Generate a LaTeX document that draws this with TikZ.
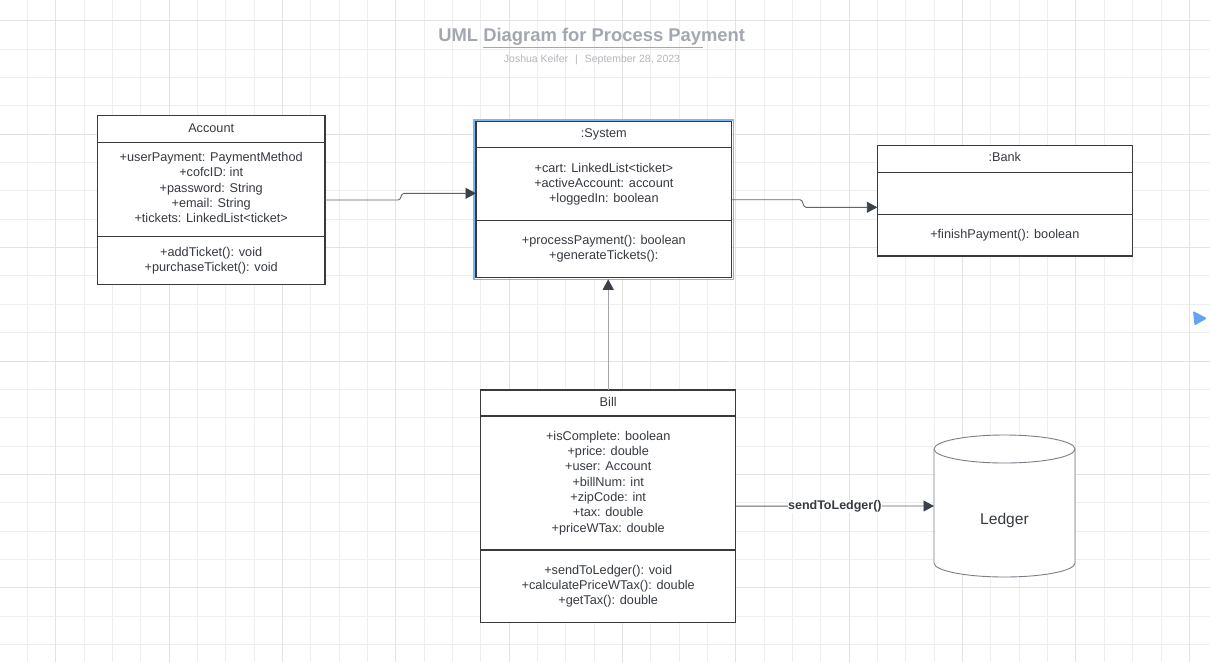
\documentclass[tikz,border=0pt]{standalone}
\usepackage{fontspec}
\setmainfont{Liberation Sans}
\usetikzlibrary{arrows.meta}
\definecolor{ink}{HTML}{363A40}
\definecolor{boxline}{HTML}{3A3A3A}
\definecolor{arrowc}{HTML}{3A414A}
\definecolor{linec}{HTML}{5F6670}
\definecolor{lightline}{HTML}{A4A6AA}
\definecolor{gridminor}{HTML}{EEEEEE}
\definecolor{gridmajor}{HTML}{E3E3E3}
\definecolor{titlec}{HTML}{A3A8B0}
\definecolor{subc}{HTML}{B3B6BB}
\definecolor{selblue}{HTML}{80B5F3}
\definecolor{markblue}{HTML}{62A4F0}
\definecolor{cylline}{HTML}{7A7F87}
\newcommand\umllines[5]{%
  \foreach \t [count=\i] in {#5} {\node[txt, anchor=base] (#1\i) at (#2, {#3+#4*(\i-1)}) {\t};}}
\begin{document}
\begin{tikzpicture}[x=1pt,y=-1pt,
  classbox/.style={draw=boxline, line width=1.4pt, fill=white, inner sep=0pt, outer sep=0pt},
  divider/.style={draw=boxline, line width=1.4pt},
  txt/.style={text=ink, font=\fontsize{12.7}{15.3}\selectfont, inner sep=0pt},
  conn/.style={draw=linec, line width=0.9pt, -{Triangle[length=10.5pt,width=11pt,color=arrowc]}}]
\useasboundingbox (0,0) rectangle (1210,662);
\fill[white] (0,0) rectangle (1210,662);
% grid
\foreach \k in {0,...,43} {\draw[gridminor, line width=0.8pt] ({-1.04+28.34*\k},0) -- ({-1.04+28.34*\k},662);}
\foreach \k in {0,...,23} {\draw[gridminor, line width=0.8pt] (0,{20.7+28.35*\k}) -- (1210,{20.7+28.35*\k});}
\foreach \k in {2,6,...,42} {\draw[gridmajor, line width=0.8pt] ({-1.04+28.34*\k},0) -- ({-1.04+28.34*\k},662);}
\foreach \k in {0,4,...,20} {\draw[gridmajor, line width=0.8pt] (0,{20.7+28.35*\k}) -- (1210,{20.7+28.35*\k});}
% title
\node[text=titlec, font=\bfseries\fontsize{18.4}{20}\selectfont, anchor=base, inner sep=0pt] (title) at (591.7,41.7) {UML Diagram for Process Payment};
\draw[titlec, line width=1.6pt] (483,47.5) -- (703,47.5);
\node[text=subc, font=\fontsize{10.5}{12}\selectfont, anchor=base, inner sep=0pt] (subtitle) at (592,62) {Joshua Keifer\hspace{7pt}|\hspace{7pt}September 28, 2023};
% Account
\node[classbox, minimum width=227.7pt, minimum height=168.6pt] (account) at (211.2,200) {};
\draw[divider] ([yshift=-26.6pt]account.north west) -- ([yshift=-26.6pt]account.north east);
\draw[divider] ([yshift=-121pt]account.north west) -- ([yshift=-121pt]account.north east);
\node[txt, anchor=base] (acctitle) at (211.2,132.8) {Account};
\umllines{acA}{211.2}{161.7}{15.25}{+userPayment: PaymentMethod,+cofcID: int,+password: String,+email: String,+tickets: LinkedList<ticket>}
\umllines{acM}{211.2}{256.1}{15.3}{+addTicket(): void,+purchaseTicket(): void}
% System (blue selection frame drawn first)
\draw[selblue, line width=1.8pt] (474.2,119.9) rectangle (733.5,279.5);
\node[classbox, minimum width=255.7pt, minimum height=156pt] (system) at (603.85,199.7) {};
\draw[divider] ([yshift=-26pt]system.north west) -- ([yshift=-26pt]system.north east);
\draw[divider] ([yshift=-99pt]system.north west) -- ([yshift=-99pt]system.north east);
\node[txt, anchor=base] (systitle) at (603.85,137.8) {:System};
\umllines{syA}{603.85}{172.7}{15.1}{+cart: LinkedList<ticket>,+activeAccount: account,+loggedIn: boolean}
\umllines{syM}{603.85}{244.4}{15.5}{+processPayment(): boolean,+generateTickets():}
% Bank
\node[classbox, minimum width=255pt, minimum height=110.3pt] (bank) at (1004.8,200.85) {};
\draw[divider] ([yshift=-26.6pt]bank.north west) -- ([yshift=-26.6pt]bank.north east);
\draw[divider] ([yshift=-68.6pt]bank.north west) -- ([yshift=-68.6pt]bank.north east);
\node[txt, anchor=base] (banktitle) at (1004.8,161.8) {:Bank};
\node[txt, anchor=base] (bankM1) at (1004.8,238.4) {+finishPayment(): boolean};
% Bill
\node[classbox, minimum width=255pt, minimum height=232.3pt] (bill) at (608.2,506.15) {};
\draw[divider] ([yshift=-26pt]bill.north west) -- ([yshift=-26pt]bill.north east);
\draw[divider] ([yshift=-160pt]bill.north west) -- ([yshift=-160pt]bill.north east);
\node[txt, anchor=base] (billtitle) at (608.2,406.8) {Bill};
\umllines{biA}{608.2}{440.4}{15.28}{+isComplete: boolean,+price: double,+user: Account,+billNum: int,+zipCode: int,+tax: double,+priceWTax: double}
\umllines{biM}{608.2}{574.4}{15}{+sendToLedger(): void,+calculatePriceWTax(): double,+getTax(): double}
% Ledger cylinder
\node[minimum width=141pt, minimum height=142pt, inner sep=0pt, outer sep=0pt] (ledger) at (1004.5,506) {};
\filldraw[fill=white, draw=cylline, line width=0.9pt]
  (934,449) -- (934,563)
  .. controls (934,570.7) and (965.6,577) .. (1004.5,577)
  .. controls (1043.4,577) and (1075,570.7) .. (1075,563)
  -- (1075,449)
  .. controls (1075,441.3) and (1043.4,435) .. (1004.5,435)
  .. controls (965.6,435) and (934,441.3) .. (934,449) -- cycle;
\draw[cylline, line width=0.9pt] (934,449)
  .. controls (934,456.7) and (965.6,463) .. (1004.5,463)
  .. controls (1043.4,463) and (1075,456.7) .. (1075,449);
\node[text=ink, font=\fontsize{15.6}{18}\selectfont, anchor=base, inner sep=0pt] (ledgertxt) at (1004.5,524) {Ledger};
% connectors
\draw[conn] (account.east) -- ++(73,0) to[out=0,in=180] ++(6,-6.7) -- ([yshift=6.4pt]system.west);
\draw[conn] (system.east) -- ++(68.3,0) to[out=0,in=180] ++(6,7.6) -- ([yshift=-6.45pt]bank.west);
\draw[conn, draw=lightline, line width=1.4pt] (bill.north) -- ([yshift=-1.6pt]bill.north |- system.south);
\draw[conn] (bill.east) -- (ledger.west)
  node[midway, anchor=base, yshift=-3.5pt, fill=white, inner xsep=0.6pt, inner ysep=1pt, text=ink, font=\bfseries\fontsize{12.5}{14}\selectfont] (lbl) {sendToLedger()};
% blue marker
\fill[markblue, rounded corners=1pt] (1193,311) -- (1207,318.3) -- (1194.5,325.5) -- cycle;
\end{tikzpicture}
\end{document}
